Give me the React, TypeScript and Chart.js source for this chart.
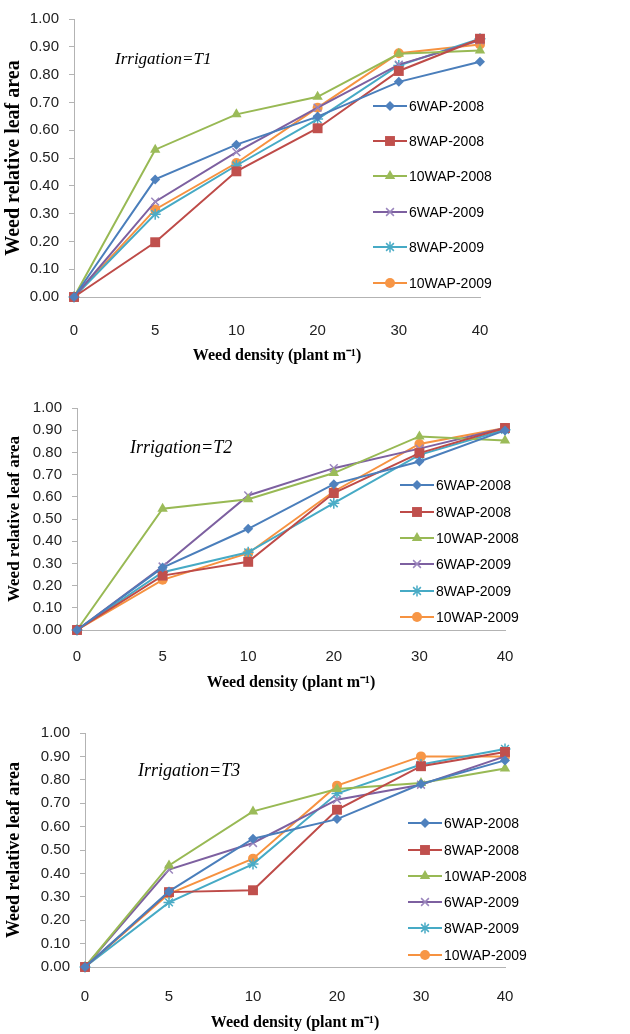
import React, { useEffect, useRef } from 'react';
import { Chart, registerables } from 'chart.js';
import { drawPoint } from 'chart.js/helpers';

Chart.register(...registerables);

// ---- data ----
const densities = ['0', '5', '10', '20', '30', '40'];
const seriesNames = ['6WAP-2008', '8WAP-2008', '10WAP-2008', '6WAP-2009', '8WAP-2009', '10WAP-2009'];
const yTicks = [0, 0.1, 0.2, 0.3, 0.4, 0.5, 0.6, 0.7, 0.8, 0.9, 1.0];
const xTitle = 'Weed density (plant m\u207B\u00B9)';
const yTitle = 'Weed relative leaf area';
const panelNotes = ['Irrigation=T1', 'Irrigation=T2', 'Irrigation=T3'];

// Irrigation T1
const t1Wap6y2008 = [0, 0.423, 0.548, 0.649, 0.774, 0.846];
const t1Wap8y2008 = [0, 0.197, 0.452, 0.607, 0.813, 0.929];
const t1Wap10y2008 = [0, 0.53, 0.657, 0.72, 0.875, 0.887];
const t1Wap6y2009 = [0, 0.343, 0.521, 0.681, 0.836, 0.923];
const t1Wap8y2009 = [0, 0.298, 0.473, 0.64, 0.833, 0.929];
const t1Wap10y2009 = [0, 0.315, 0.482, 0.681, 0.877, 0.908];

// Irrigation T2
const t2Wap6y2008 = [0, 0.281, 0.456, 0.657, 0.759, 0.899];
const t2Wap8y2008 = [0, 0.245, 0.307, 0.617, 0.797, 0.91];
const t2Wap10y2008 = [0, 0.546, 0.589, 0.707, 0.872, 0.854];
const t2Wap6y2009 = [0, 0.286, 0.606, 0.729, 0.817, 0.91];
const t2Wap8y2009 = [0, 0.26, 0.35, 0.571, 0.789, 0.902];
const t2Wap10y2009 = [0, 0.226, 0.346, 0.624, 0.838, 0.91];

// Irrigation T3
const t3Wap6y2008 = [0, 0.323, 0.548, 0.632, 0.782, 0.883];
const t3Wap8y2008 = [0, 0.32, 0.328, 0.672, 0.858, 0.919];
const t3Wap10y2008 = [0, 0.434, 0.665, 0.761, 0.786, 0.848];
const t3Wap6y2009 = [0, 0.416, 0.53, 0.715, 0.779, 0.9];
const t3Wap8y2009 = [0, 0.276, 0.44, 0.741, 0.865, 0.932];
const t3Wap10y2009 = [0, 0.313, 0.463, 0.775, 0.9, 0.9];

// ---- styles ----
const W = 630;
const AXIS = '#b3b3b3';
const TICK_FONT = 'Liberation Sans';
const SERIF = 'Liberation Serif';
const lineColors = ['#4A7EBB', '#BE4B48', '#98B954', '#7D60A0', '#46AAC5', '#F69240'];
const markColors = ['#4F81BD', '#C0504D', '#9BBB59', '#9B86BD', '#4BACC6', '#F79646'];
const markStyles = ['rectRot', 'rect', 'triangle', 'crossRot', 'star', 'circle'];
const markRadius = [5, 7, 6, 5.5, 5.5, 5];

type Panel = {
  top: number;
  height: number;
  area: { left: number; top: number; right: number; bottom: number };
  series: number[][];
  note: string;
  noteX: number;
  noteY: number;
  noteSize: number;
  legendX: number;
  legendRows: number[];
  yTitleSize: number;
  yTitlePad: number;
  xTickPad: number;
  xTitleBottom: number;
};

const panels: Panel[] = [
  {
    top: 0, height: 372,
    area: { left: 74, top: 17, right: 480, bottom: 297 },
    series: [t1Wap6y2008, t1Wap8y2008, t1Wap10y2008, t1Wap6y2009, t1Wap8y2009, t1Wap10y2009],
    note: panelNotes[0], noteX: 115, noteY: 60, noteSize: 17,
    legendX: 373, legendRows: [106, 141, 176, 212, 247, 283],
    yTitleSize: 20, yTitlePad: 2, xTickPad: 25, xTitleBottom: 7,
  },
  {
    top: 372, height: 322,
    area: { left: 77, top: 36, right: 505, bottom: 258 },
    series: [t2Wap6y2008, t2Wap8y2008, t2Wap10y2008, t2Wap6y2009, t2Wap8y2009, t2Wap10y2009],
    note: panelNotes[1], noteX: 130, noteY: 76, noteSize: 18,
    legendX: 400, legendRows: [113, 140, 166, 192, 219, 245],
    yTitleSize: 17, yTitlePad: 4, xTickPad: 18, xTitleBottom: 2,
  },
  {
    top: 694, height: 340,
    area: { left: 85, top: 39, right: 505, bottom: 273 },
    series: [t3Wap6y2008, t3Wap8y2008, t3Wap10y2008, t3Wap6y2009, t3Wap8y2009, t3Wap10y2009],
    note: panelNotes[2], noteX: 138, noteY: 77, noteSize: 18,
    legendX: 408, legendRows: [129, 156, 182, 208, 234, 261],
    yTitleSize: 18, yTitlePad: 4, xTickPad: 21, xTitleBottom: 2,
  },
];

function makeConfig(p: Panel): any {
  const datasets = p.series.map((data, i) => ({
    label: seriesNames[i],
    data,
    borderColor: lineColors[i],
    backgroundColor: markColors[i],
    borderWidth: 2,
    pointStyle: markStyles[i],
    pointRadius: markRadius[i],
    pointBackgroundColor: markColors[i],
    pointBorderColor: markStyles[i] === 'crossRot' || markStyles[i] === 'star' ? markColors[i] : markColors[i],
    pointBorderWidth: markStyles[i] === 'crossRot' || markStyles[i] === 'star' ? 1.5 : 0,
    tension: 0,
    clip: false,
  }));

  const overlay = {
    id: 'overlay',
    afterDraw(chart: any) {
      const ctx = chart.ctx;
      ctx.save();
      // annotation
      ctx.fillStyle = '#000';
      ctx.font = `italic ${p.noteSize}px "${SERIF}"`;
      ctx.textAlign = 'left';
      ctx.textBaseline = 'middle';
      ctx.fillText(p.note, p.noteX, p.noteY);
      // legend
      chart.data.datasets.forEach((ds: any, i: number) => {
        const y = p.legendRows[i];
        const x0 = p.legendX;
        const x1 = x0 + 34;
        ctx.strokeStyle = ds.borderColor;
        ctx.lineWidth = 2;
        ctx.beginPath();
        ctx.moveTo(x0, y);
        ctx.lineTo(x1, y);
        ctx.stroke();
        ctx.fillStyle = ds.pointBackgroundColor;
        ctx.strokeStyle = ds.pointBorderColor;
        ctx.lineWidth = ds.pointBorderWidth || 1;
        drawPoint(ctx, { pointStyle: ds.pointStyle, radius: ds.pointRadius, rotation: 0, borderWidth: ds.pointBorderWidth }, (x0 + x1) / 2, y);
        ctx.fillStyle = '#000';
        ctx.font = `14px "${TICK_FONT}"`;
        ctx.textBaseline = 'middle';
        ctx.fillText(ds.label, x1 + 2, y + 1);
      });
      ctx.restore();
    },
  };

  return {
    type: 'line',
    data: { labels: densities, datasets },
    options: {
      responsive: false,
      animation: false,
      events: [],
      layout: { padding: { top: p.area.top, right: W - p.area.right, left: 0, bottom: 0 } },
      plugins: { legend: { display: false }, tooltip: { enabled: false }, title: { display: false } },
      scales: {
        x: {
          type: 'category',
          offset: false,
          grid: { display: true, drawOnChartArea: false, drawTicks: false, color: AXIS },
          border: { display: true, color: AXIS, width: 1 },
          ticks: { padding: p.xTickPad, color: '#222', font: { family: TICK_FONT, size: 15 }, maxRotation: 0, autoSkip: false },
          title: {
            display: true,
            text: xTitle,
            color: '#000',
            font: { family: SERIF, weight: 'bold', size: 16 },
            padding: { top: 0, bottom: p.xTitleBottom },
          },
          afterFit: (s: any) => { s.height = p.height - p.area.bottom; },
        },
        y: {
          min: 0,
          max: 1,
          afterBuildTicks: (s: any) => { s.ticks = yTicks.map((v) => ({ value: v })); },
          ticks: {
            padding: 10,
            color: '#222',
            font: { family: TICK_FONT, size: 15 },
            callback: (v: any) => Number(v).toFixed(2),
          },
          grid: { display: true, drawOnChartArea: false, drawTicks: true, tickLength: 5, color: AXIS },
          border: { display: true, color: AXIS, width: 1 },
          title: {
            display: true,
            text: yTitle,
            color: '#000',
            font: { family: SERIF, weight: 'bold', size: p.yTitleSize },
            padding: { top: p.yTitlePad, bottom: 0 },
          },
          afterFit: (s: any) => { s.width = p.area.left; },
        },
      },
    },
    plugins: [overlay],
  };
}

function PanelChart({ p }: { p: Panel }) {
  const ref = useRef<HTMLCanvasElement | null>(null);
  useEffect(() => {
    if (!ref.current) return;
    const chart = new Chart(ref.current, makeConfig(p));
    return () => chart.destroy();
  }, [p]);
  return (
    <canvas
      ref={ref}
      width={W}
      height={p.height}
      style={{ position: 'absolute', left: 0, top: p.top, width: W, height: p.height, display: 'block' }}
    />
  );
}

export default function App() {
  return (
    <div style={{ position: 'absolute', left: 0, top: 0, width: W, height: 1034, background: '#fff', overflow: 'hidden' }}>
      {panels.map((p, i) => (
        <PanelChart key={i} p={p} />
      ))}
    </div>
  );
}
